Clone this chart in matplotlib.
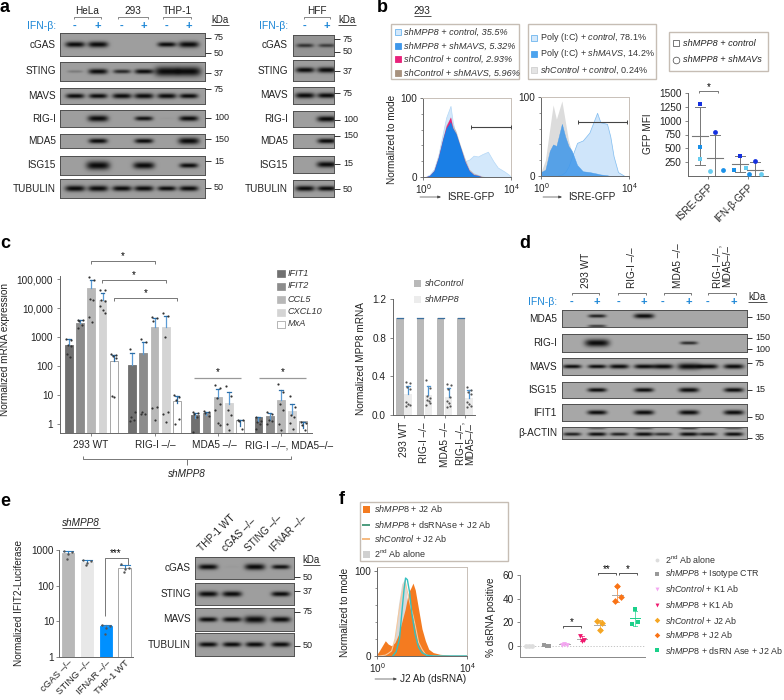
import numpy as np
import matplotlib
matplotlib.use('Agg')
import matplotlib.pyplot as plt
from matplotlib.patches import Rectangle

plt.rcParams['font.family'] = ['Liberation Sans', 'DejaVu Sans']
plt.rcParams['mathtext.fontset'] = 'custom'
plt.rcParams['mathtext.rm'] = 'Liberation Sans'
plt.rcParams['mathtext.it'] = 'Liberation Sans:italic'
plt.rcParams['mathtext.bf'] = 'Liberation Sans:bold'
plt.rcParams['mathtext.default'] = 'rm'
plt.rcParams['axes.linewidth'] = 0.7

W, H = 784, 700
BLUE = '#1c86d6'
DARK = '#555555'

# ---- panel a blots
a_rows = ['cGAS', 'STING', 'MAVS', 'RIG-I', 'MDA5', 'ISG15', 'TUBULIN']
a_left_bands = [[.9, 1., 0, 0, .7, 1.05],
                [.15, .85, .5, .7, 1.9, 1.9],
                [.7, .7, .8, .85, .8, .7],
                [0, 1.1, 0, .6, .02, .8],
                [0, .75, 0, .7, 0, 1.2],
                [0, 1.7, 0, 1.25, 0, .7],
                [1., 1., .85, .85, .7, .8]]
a_right_bands = [[.45, .4], [.75, .85], [.9, .8], [0, .95], [0, .75], [0, 1.], [.85, .75]]
a_left_kda = [('75', 38), ('50', 53), ('37', 73), ('75', 89), ('100', 118), ('150', 139), ('15', 161), ('50', 188)]
a_right_kda = [('75', 39), ('50', 52), ('37', 71), ('75', 93), ('100', 120), ('150', 136), ('15', 164), ('50', 189)]

# ---- panel d blots
d_rows = ['MDA5', 'RIG-I', 'MAVS', 'ISG15', 'IFIT1', 'β-ACTIN']
d_bands = [[0, .55, 0, 1., 0, 0, 0, 0],
           [0, 1.9, 0, 0, 0, .5, 0, 0],
           [.7, .7, .9, .9, 1.05, 1.5, 1., 1.],
           [0, .8, 0, .85, 0, 1., 0, .9],
           [0, .9, 0, 1., 0, 1., 0, 1.],
           [.55, .65, .55, .7, .5, .7, .55, .7]]
d_kda = [('150', 317), ('150', 338), ('100', 349), ('75', 363), ('15', 390), ('50', 417), ('35', 438)]
d_groups = ['293 WT', 'RIG-I –/–', 'MDA5 –/–', 'RIG-I –/–,\nMDA5–/–']

# ---- panel e blots
e_rows = ['cGAS', 'STING', 'MAVS', 'TUBULIN']
e_bands = [[.85, .02, 1.05, .6], [.9, .9, 0, .75], [.7, .75, 1.3, .9], [.7, .7, .75, .75]]
e_kda = [('50', 577), ('37', 591), ('75', 612), ('50', 646)]
e_lanes = ['THP-1 WT', 'cGAS –/–', 'STING –/–', 'IFNAR –/–']

# ---- panel b
b_hist1_x = [.1, .3, .5, .7, .9, 1.05, 1.25, 1.35, 1.5, 1.7, 1.9, 2.1, 2.3, 2.5, 2.7, 2.95, 3.2, 3.4, 3.7, 3.9, 4.]
b_hist1_light = [0, 3, 10, 28, 55, 75, 90, 70, 52, 35, 20, 22, 27, 26, 29, 32, 20, 12, 7, 3, 0]
b_hist1_gray = [0, 2, 9, 27, 50, 66, 76, 66, 58, 40, 24, 10, 5, 3, 1, 0, 0, 0, 0, 0, 0]
b_hist1_pink = [0, 2, 8, 25, 48, 64, 76, 62, 54, 37, 20, 8, 3, 2, 0, 0, 0, 0, 0, 0, 0]
b_hist1_dark = [0, 2, 8, 25, 48, 62, 70, 62, 55, 38, 20, 8, 3, 2, 0, 0, 0, 0, 0, 0, 0]
b_hist2_x = [0, .2, .4, .55, .7, .95, 1.1, 1.25, 1.4, 1.64, 1.9, 2.2, 2.55, 2.7, 3., 3.15, 3.3, 3.5, 3.8, 4.]
b_hist2_gray = [5, 20, 60, 90, 72, 95, 70, 45, 30, 12, 3, 2, 0, 0, 0, 0, 0, 0, 0, 0]
b_hist2_dark = [5, 8, 32, 40, 38, 66, 50, 38, 32, 14, 6, 5, 3, 2, 1, 0, 0, 0, 0, 0]
b_hist2_light = [0, 0, 0, 0, 0, 2, 5, 12, 24, 42, 45, 55, 80, 68, 66, 50, 25, 5, 0, 0]
b_mfi_groups = ['ISRE-GFP', 'IFN-β-GFP']
b_mfi_squares = [[1310, 525, 310], [365, 115, 150]]
b_mfi_circles = [[800, 110, 90], [265, 30, 30]]
b_mfi_sq_mean = [715, 210]
b_mfi_sq_lo = [200, 80]
b_mfi_sq_hi = [1240, 360]
b_mfi_ci_mean = [330, 110]
b_mfi_ci_lo = [0, 0]
b_mfi_ci_hi = [735, 260]
b_mfi_colors = ['#1430e0', '#1a90e8', '#66ccf0']

# ---- panel c left
c_groups = ['293 WT', 'RIG-I –/–', 'MDA5 –/–', 'RIG-I –/–, MDA5–/–']
c_genes = ['IFIT1', 'IFIT2', 'CCL5', 'CXCL10', 'MxA']
c_gene_colors = ['#707070', '#8c8c8c', '#b8b8b8', '#d4d4d4', 'white']
c_means = [[520, 3100, 50000, 19000, 150],
           [110, 270, 2200, 2200, 5.5],
           [1.6, 2, 8, 5, .85],
           [1.25, 1.4, 6.5, 2.3, .75]]
c_tops = [[850, 4000, 95000, 33000, 240],
          [280, 700, 4500, 5200, 9],
          [2.4, 2.7, 16, 12.5, 1.35],
          [1.75, 2.4, 15, 5, 1.2]]
c_points = [[[850, 800, 520, 480, 260, 210], [4000, 3800, 3600, 2600, 2100], [120000, 90000, 20000, 19000, 5000, 3300],
             [42000, 41000, 19000, 18000, 12000, 8500, 6500], [250, 240, 220, 190, 9, 8.5]],
            [[380, 2.5, 1.8, 1.4, 1.3], [850, 650, 2.5, 2.3, 2.2], [4800, 4500, 3500, 4, 3.5, 1.4],
             [6500, 5500, 1000, 2.5, 2.2, 1.2], [10, 8.5, 7, 1.5, 1]],
            [[2.6, 2.4, 2.2, 1.8, .55], [2.8, 2.6, 2.4, 1.9], [22, 18, 8, 5, 3, 1.1, .9],
             [21, 9, 3, 2, 1., .6], [1.4, 1.35, 1.3, .65]],
            [[1.7, 1.3, 1.2, 1., .7], [2.5, 2.3, 1.4, 1.3, 1], [24, 13, 5, 3, 1., .6],
             [9, 4, 2, 1.7, 1.1, .7], [1.2, 1.1, .9, .6]]]

# ---- panel c right
mpp8_groups = ['293 WT', 'RIG-I –/–', 'MDA5 –/–', 'RIG-I –/–,\nMDA5–/–']
mpp8_control = [1., 1., 1., 1.]
mpp8_knock = [.22, .21, .19, .18]
mpp8_hi = [.3, .3, .28, .26]
mpp8_points = [[.34, .33, .29, .27, .13, .11, .1, .09],
               [.36, .28, .2, .18, .16, .14, .12, .1],
               [.32, .31, .27, .19, .14, .12, .09, .08],
               [.29, .26, .24, .22, .13, .11, .09, .08]]

# ---- panel e
e_bar_labels = ['cGAS –/–', 'STING –/–', 'IFNAR –/–', 'THP-1 WT']
e_bar_values = [800, 450, 6.5, 310]
e_bar_colors = ['#b8b8b8', '#e8e8e8', '#0090ff', 'white']
e_bar_points = [[950, 900, 750, 550], [520, 480, 430, 390], [8, 7.5, 6.5, 4.5], [400, 310, 290, 240]]
e_bar_hi = [930, 510, 8, 380]

# ---- panel f
f_x = [0, .1, .37, .5, .65, .8, .95, 1.1, 1.25, 1.4, 1.5, 1.6, 1.7, 1.85, 2., 2.15, 2.3, 2.5, 2.8, 3., 3.3, 3.6, 4.]
f_orange = [2, 6, 18, 14, 12, 16, 25, 40, 55, 75, 80, 86, 78, 55, 32, 18, 8, 4, 2, 1.5, .5, 0, 0]
f_gray = [0, 0, 0, 2, 6, 22, 60, 85, 92, 50, 25, 12, 6, 2, 1, 0, 0, 0, 0, 0, 0, 0, 0]
f_ctrl = [0, 0, 1, 3, 6, 20, 48, 72, 88, 70, 58, 48, 36, 16, 8, 2, 0, 0, 0, 0, 0, 0, 0]
f_teal_x = [.7, .85, 1., 1.1, 1.2, 1.27, 1.35, 1.45, 1.55, 1.7, 1.85, 2., 2.2, 2.5, 4.]
f_teal = [0, 5, 20, 50, 78, 92, 90, 75, 50, 25, 10, 4, 1, 0, 0]
ds_labels = ['2$^{nd}$ Ab alone', '$\\it{shMPP8}$ + Isotype CTR', '$\\it{shControl}$ + K1 Ab', '$\\it{shMPP8}$ + K1 Ab',
             '$\\it{shControl}$ + J2 Ab', '$\\it{shMPP8}$ + J2 Ab', '$\\it{shMPP8}$ + dsRN Ase + J2 Ab']
ds_values = [[.3, .2, .1], [.5, .4, .3], [1., 2., 1.2], [8.5, 5., 4.5], [21, 19.5, 13.5], [51, 41.5, 38], [31, 20, 19]]
ds_jitter = [[-.15, 0, .15], [-.15, 0, .15], [-.15, 0, .15], [-.12, .12, 0], [-.15, .15, 0], [0, .2, -.13], [0, .15, -.15]]
ds_colors = ['#dddddd', '#999999', '#f3a6f0', '#f0186e', '#f5a623', '#f97316', '#1bd08a']
ds_markers = ['o', 's', 'v', 'v', 'D', 'D', 's']


fig = plt.figure(figsize=(W / 100, H / 100), dpi=100)


def ax_px(x0, y0, x1, y1):
    return fig.add_axes([x0 / W, 1 - y1 / H, (x1 - x0) / W, (y1 - y0) / H])


ov = fig.add_axes([0, 0, 1, 1], zorder=10)
ov.set_xlim(0, W)
ov.set_ylim(H, 0)
ov.axis('off')


def txt(x, y, s, size=7.2, ha='left', va='center', **kw):
    ov.text(x, y, s, fontsize=size, ha=ha, va=va, **kw)


def line(xs, ys, color='#777777', lw=0.7):
    ov.plot(xs, ys, color=color, lw=lw, solid_capstyle='butt')


def bracket(x0, x1, y, drop=3, color='#777777'):
    line([x0, x0, x1, x1], [y + drop, y, y, y + drop], color=color)


def draw_blot(box, lanes, bands, bg=.62, second=None, second_frac=.2, frac=.5, thick=1.):
    x0, y0, x1, y1 = box
    ax = ax_px(x0, y0, x1, y1)
    xx, yy = np.meshgrid(np.linspace(x0, x1, int(x1 - x0) * 2), np.linspace(y0, y1, int(y1 - y0) * 3))
    dark = np.zeros_like(xx)
    hgt = y1 - y0
    for xc, val in zip(lanes, bands):
        if val > 0:
            w, h = 7.5 + 2.5 * val, (1.2 + 2.1 * val) * thick
            dark = dark + min(val * 1.6, 1) * np.exp(-((xx - xc) / w) ** 4 - ((yy - (y0 + frac * hgt)) / h) ** 2 * 1.2)
    if second is not None:
        for xc, val in zip(lanes, second):
            if val > 0:
                dark = dark + val * np.exp(-((xx - xc) / 9.) ** 4 - ((yy - (y0 + second_frac * hgt)) / 1.3) ** 2)
    dark = np.clip(dark, 0, 1)
    img = bg * (1 - dark) + .04 * dark
    ax.imshow(img, cmap='gray', vmin=0, vmax=1, aspect='auto', interpolation='bilinear', extent=(x0, x1, y1, y0))
    ax.set_xticks([])
    ax.set_yticks([])
    for sp in ax.spines.values():
        sp.set_color('#505050')
        sp.set_linewidth(.7)


def kda_marks(x_edge, marks, size=6.5, tick=5, gap=2.5):
    for lab, y in marks:
        line([x_edge, x_edge + tick], [y, y], color='#333333')
        txt(x_edge + tick + gap, y, lab, size=size, color='#222222')


def kda_head(x0, x1, y):
    txt((x0 + x1) / 2, y, 'kDa', size=7, ha='center', color='#222222')
    line([x0, x1], [y + 5, y + 5], color='#333333', lw=.6)


def ifn_row(x_label, y, lanes):
    txt(x_label, y, 'IFN-β:', size=7.5, ha='right', color=BLUE)
    for i, xc in enumerate(lanes):
        txt(xc, y, '+' if i % 2 else '-', size=8, ha='center', color=BLUE, fontweight='bold')


for s, x, y in [('a', 0, 8), ('b', 377, 8), ('c', 0, 244), ('d', 519, 243), ('e', 0, 501), ('f', 339, 500)]:
    txt(x, y, s, size=13, fontweight='bold')

# panel a
a_left_y = [(33, 56), (62, 81), (88, 104), (110, 127), (134, 148), (156, 175), (179, 198)]
a_right_y = [(35, 56), (60, 81), (87, 104), (111, 127), (134, 148), (156, 173), (180, 197)]
a_lanes_l = [75, 98, 122, 144, 167, 189]
a_lanes_r = [305, 327]
for i, name in enumerate(a_rows):
    y0, y1 = a_left_y[i]
    draw_blot((60, y0, 205, y1), a_lanes_l, a_left_bands[i])
    txt(56, (y0 + y1) / 2, name, ha='right', color='#222222')
    y0, y1 = a_right_y[i]
    draw_blot((293, y0, 334, y1), a_lanes_r, a_right_bands[i], bg=.58 if i == 0 else .62)
    txt(288, (y0 + y1) / 2, name, ha='right', color='#222222')
kda_marks(205, a_left_kda, tick=6, gap=3)
kda_marks(334, a_right_kda, tick=6, gap=3)
kda_head(211, 229, 20)
kda_head(338, 356, 20)
for lab, x0, x1 in [('HeLa', 74, 101), ('293', 118, 148), ('THP-1', 163, 191), ('HFF', 304, 330)]:
    txt((x0 + x1) / 2, 11, lab, ha='center', color='#222222')
    bracket(x0, x1, 17, drop=2, color='#888888')
ifn_row(56, 26, a_lanes_l)
ifn_row(288, 26, a_lanes_r)

# panel b
txt(422, 11, '293', ha='center', color='#222222')
line([414, 431], [16, 16], color='#333333', lw=.6)
ov.add_patch(Rectangle((391, 24), 128, 55, fc='white', ec='#c6bdb4', lw=1))
b_leg1 = ['shMPP8 + control, 35.5%', 'shMPP8 + shMAVS, 5.32%', 'shControl + control, 2.93%', 'shControl + shMAVS, 5.96%']
for y, lab, fc, ec in zip([32, 46, 59, 73], b_leg1, ['#d3e8fb', '#3f97ea', '#e8217a', '#a8927e'],
                          ['#6eb5ee', '#3f97ea', '#e8217a', '#a8927e']):
    ov.add_patch(Rectangle((395, y - 2.8), 5.6, 5.6, fc=fc, ec=ec, lw=.6))
    txt(404, y, lab, size=6.6, style='italic', color='#333333')
ov.add_patch(Rectangle((528, 24), 128, 55, fc='white', ec='#c6bdb4', lw=1))
b_leg2 = ['Poly (I:C) + $\\it{control}$, 78.1%', 'Poly (I:C) + $\\it{shMAVS}$, 14.2%', '$\\it{shControl}$ + $\\it{control}$, 0.24%']
for y, lab, fc, ec in zip([38, 54, 70], b_leg2, ['#d3e8fb', '#4ca3ee', '#e4e4e4'], ['#6eb5ee', '#4ca3ee', '#d0d0d0']):
    ov.add_patch(Rectangle((531, y - 3), 6, 6, fc=fc, ec=ec, lw=.6))
    txt(540, y, lab, size=6.5, color='#333333')
ov.add_patch(Rectangle((669, 32), 99, 39, fc='white', ec='#c6bdb4', lw=1))
ov.plot([676], [43], 's', ms=4.5, mfc='white', mec='#444444', mew=.5)
ov.plot([676], [60], 'o', ms=4.8, mfc='white', mec='#444444', mew=.5)
txt(683, 43, 'shMPP8 + control', size=6.6, style='italic', color='#222222')
txt(683, 60, 'shMPP8 + shMAVs', size=6.6, style='italic', color='#222222')


def hist_axes(box, ytop=100):
    ax = ax_px(*box)
    ax.set_xscale('log')
    ax.set_xlim(1, 1e4)
    ax.set_ylim(0, ytop)
    ax.set_xticks([1, 1e4])
    ax.set_xticklabels(['$10^0$', '$10^4$'], fontsize=7.2, color='#222222')
    ax.set_yticks([0, 100])
    ax.set_yticklabels(['0', '100'], fontsize=7.2, color='#222222')
    ax.set_yticks([20, 40, 60, 80], minor=True)
    ax.tick_params(axis='both', which='major', length=2.5, width=.5, pad=1.5, color='#444444')
    ax.tick_params(axis='y', which='minor', length=1.5, width=.4, color='#444444')
    ax.tick_params(axis='x', which='minor', bottom=False)
    for k in ['top', 'right']:
        ax.spines[k].set_color('#c8c0b8')
    for k in ['left', 'bottom']:
        ax.spines[k].set_color('#666666')
    return ax


hx = 10 ** np.array(b_hist1_x)
ax = hist_axes((423, 98, 511, 177))
ax.fill_between(hx, b_hist1_light, color='#d3e8fb', lw=.5, ec='#b5d8f7')
ax.fill_between(hx, b_hist1_gray, color='#bdbdbd', lw=0)
ax.fill_between(hx, b_hist1_pink, color='#e8217a', lw=0)
ax.fill_between(hx, b_hist1_dark, color='#1a7fe6', lw=0)
line([471, 511], [127, 127], color='#444444', lw=.8)
line([471, 471], [125, 129], color='#444444')
line([511, 511], [125, 129], color='#444444')

hx = 10 ** np.array(b_hist2_x)
ax = hist_axes((541, 97, 629, 176))
ax.fill_between(hx, b_hist2_gray, color='#dcdcdc', lw=0)
ax.fill_between(hx, b_hist2_light, color='#cfe5fa', lw=.5, ec='#7fbcf0')
ax.fill_between(hx, b_hist2_dark, color='#3f97ea', lw=.3, alpha=.85)
line([578, 627], [122, 122], color='#444444', lw=.8)
line([578, 578], [120, 124], color='#444444')
line([627, 627], [120, 124], color='#444444')

txt(392, 139, 'Normalized to mode', rotation=90, ha='center', color='#222222')
for x0, x1, tx in [(420, 441, 447), (543, 562, 568)]:
    ov.annotate('', xy=(x1, 197), xytext=(x0, 197), arrowprops=dict(arrowstyle='-|>,head_length=.18,head_width=.08', lw=.5, color='#444444', shrinkA=0, shrinkB=0))
    txt(tx, 197, 'ISRE-GFP', color='#222222')

ax = ax_px(688, 93, 768, 176)
sq_x = [1.2, 5.2]
ci_x = [2.7, 6.7]
for i in range(2):
    for xs, vals, mean, lo, hi, mk in [(sq_x[i], b_mfi_squares[i], b_mfi_sq_mean[i], b_mfi_sq_lo[i], b_mfi_sq_hi[i], 's'),
                                       (ci_x[i], b_mfi_circles[i], b_mfi_ci_mean[i], b_mfi_ci_lo[i], b_mfi_ci_hi[i], 'o')]:
        ax.plot([xs, xs], [lo, hi], color='#777777', lw=.7, zorder=1)
        ax.plot([xs - .5, xs + .5], [lo, lo], color='#777777', lw=.7, zorder=1, clip_on=False)
        ax.plot([xs - .5, xs + .5], [hi, hi], color='#777777', lw=.7, zorder=1)
        ax.plot([xs - .8, xs + .8], [mean, mean], color='#777777', lw=.8, zorder=1)
        dx = [0, .8, -.5] if (mk == 'o' and i == 0) else [0, -.6, .6] if i else [0, 0, 0]
        for v, c, d in zip(vals, b_mfi_colors, dx):
            ax.scatter(xs + d, v, s=12, marker=mk, color=c, lw=0, zorder=3, clip_on=False)
ax.set_xlim(0, 8)
ax.set_ylim(0, 1500)
ax.set_yticks([250, 500, 750, 1000, 1250, 1500])
ax.set_yticklabels(['250', '500', '750', '1000', '1250', '1500'], fontsize=7.2, color='#222222')
ax.set_xticks([2., 6.])
ax.set_xticklabels(b_mfi_groups, fontsize=7.2, rotation=45, ha='right', rotation_mode='anchor', color='#222222')
ax.tick_params(length=2.5, width=.5, pad=2, color='#555555')
for k in ['top', 'right']:
    ax.spines[k].set_visible(False)
for k in ['left', 'bottom']:
    ax.spines[k].set_color('#666666')
txt(648, 134, 'GFP MFI', rotation=90, ha='center', color='#222222')
bracket(699, 718, 91, drop=2)
txt(708.5, 87, '*', size=7, ha='center')

# panel c left
ax = ax_px(60, 276, 312, 433)
ax.set_yscale('log')
ax.set_xlim(0, 22.5)
ax.set_ylim(.49, 1.27e5)
grp_off = 5.64
jit = [-.22, .22, -.1, .18, -.2, .05, .2]
for g in range(4):
    for b in range(5):
        xb = .8 + g * grp_off + b
        ax.bar(xb, c_means[g][b], width=.7, color=c_gene_colors[b], ec='#999999' if b == 4 else c_gene_colors[b], lw=.6, bottom=.49)
        ax.plot([xb, xb], [c_means[g][b], c_tops[g][b]], color='#5a9bd5' if b < 4 else '#2b6ea8', lw=.9)
        ax.plot([xb - .15, xb + .15], [c_tops[g][b]] * 2, color='#2b6ea8', lw=.9)
        pts = c_points[g][b]
        ax.scatter([xb + jit[k % 7] for k in range(len(pts))], pts, s=2.5, color='#333333', lw=0, zorder=4)
ax.set_yticks([1, 10, 100, 1000, 10000, 100000])
ax.set_yticklabels(['1', '10', '100', '1000', '10,000', '100,000'], fontsize=7.2, color='#222222')
ax.minorticks_off()
ax.set_xticks([2.8 + g * grp_off for g in range(4)])
ax.set_xticklabels([])
ax.tick_params(length=2.5, width=.5, pad=2.5, color='#555555')
for k in ['top', 'right']:
    ax.spines[k].set_visible(False)
for k in ['left', 'bottom']:
    ax.spines[k].set_color('#666666')
for x_lab, lab in zip([91, 155, 214, 289], c_groups):
    txt(x_lab, 445, lab, ha='center', color='#222222')
txt(5, 350, 'Normalized mRNA expression', rotation=90, ha='center', color='#222222')
for x0, x1, y in [(91, 155, 261), (102, 166, 280), (114, 177, 298)]:
    bracket(x0, x1, y)
    txt((x0 + x1) / 2, y - 5, '*', size=7, ha='center')
for x0, x1 in [(194, 241), (259, 306)]:
    line([x0, x1], [378, 378], color='#999999', lw=.9)
    txt((x0 + x1) / 2, 372, '*', size=7, ha='center')
bracket(83, 291, 459, drop=-3)
line([187, 187], [459, 465])
txt(187, 474, 'shMPP8', style='italic', ha='center', color='#222222')
for y, lab, c in zip([273, 286, 299, 312, 324], c_genes, c_gene_colors):
    ov.add_patch(Rectangle((277.5, y - 3.5), 7.5, 7, fc=c, ec='#999999' if c == 'white' else c, lw=.5))
    txt(288, y, lab, size=6.6, style='italic', color='#333333')

# panel c right
ax = ax_px(393, 299, 475, 415)
ax.set_xlim(0, 82)
ax.set_ylim(0, 1.2)
for g in range(4):
    x_c = 7 + g * 20.3
    x_k = 15 + g * 20.3
    ax.bar(x_c, mpp8_control[g], width=7.3, color='#b9b9b9')
    ax.plot([x_c - 3, x_c + 3], [1, 1], color='#3b6f9e', lw=.9)
    ax.bar(x_k, mpp8_knock[g], width=7.3, color='#ececec')
    ax.plot([x_k, x_k], [mpp8_knock[g], mpp8_hi[g]], color='#4f93cf', lw=.9)
    ax.plot([x_k - 1.8, x_k + 1.8], [mpp8_hi[g]] * 2, color='#4f93cf', lw=.9)
    pts = mpp8_points[g]
    ax.scatter([x_k + jit[k % 7] * 9 for k in range(len(pts))], pts, s=2.5, color='#555555', lw=0, zorder=4)
ax.set_yticks([0, .4, .8, 1.2])
ax.set_yticklabels(['0.0', '0.4', '0.8', '1.2'], fontsize=7.2, color='#222222')
ax.set_xticks([11 + g * 20.3 for g in range(4)])
ax.set_xticklabels(mpp8_groups, fontsize=7.2, rotation=90, color='#222222', linespacing=.95)
ax.tick_params(length=2.5, width=.5, pad=2.5, color='#555555')
for k in ['top', 'right']:
    ax.spines[k].set_visible(False)
for k in ['left', 'bottom']:
    ax.spines[k].set_color('#666666')
txt(361, 359, 'Normalized MPP8 mRNA', rotation=90, ha='center', color='#222222')
for y, lab, c in [(283, 'shControl', '#b9b9b9'), (299, 'shMPP8', '#ececec')]:
    ov.add_patch(Rectangle((414, y - 3.5), 7.5, 7, fc=c, ec=c, lw=0))
    txt(425, y, lab, size=6.6, style='italic', color='#333333')

# panel d
d_y = [(310, 327), (334, 352), (358, 375), (382, 398), (404, 421), (427, 439)]
d_lanes = [572, 597, 619, 644, 663, 689, 708, 734]
for i, name in enumerate(d_rows):
    y0, y1 = d_y[i]
    second, sf = None, .2
    if name == 'MDA5':
        second, sf = [0, .7, 0, 0, 0, 0, 0, 0], .95
    if name == 'β-ACTIN':
        second, sf = [0, .45, 0, .5, 0, .65, 0, .5], .1
    draw_blot((562, y0, 747, y1), d_lanes, d_bands[i], bg=.66, second=second, second_frac=sf,
              frac=.35 if name == 'MDA5' else .5 if name != 'β-ACTIN' else .6, thick=.8)
    txt(557, (y0 + y1) / 2, name, ha='right', color='#222222')
kda_marks(747, d_kda, tick=5, gap=3)
kda_head(748, 767, 297)
ifn_row(557, 302, d_lanes)
for (x0, x1), xt, lab in zip([(572, 599), (618, 646), (664, 691), (708, 736)], [586, 632, 678, 722], d_groups):
    bracket(x0, x1, 293, drop=2)
    txt(xt, 288, lab, rotation=90, ha='center', va='bottom', color='#222222', linespacing=.95)

# panel e bars
ax = ax_px(59, 550, 133, 657)
ax.set_yscale('log')
ax.set_ylim(1, 1000)
ax.set_xlim(0, 74)
for i in range(4):
    xb = 9 + i * 18.9
    ax.bar(xb, e_bar_values[i], width=12.5, color=e_bar_colors[i], ec='#999999' if i == 3 else e_bar_colors[i], lw=.6, bottom=1)
    ax.plot([xb, xb], [e_bar_values[i], e_bar_hi[i]], color='#2b7fc4', lw=.8)
    ax.plot([xb - 5, xb + 5], [e_bar_hi[i]] * 2, color='#2b7fc4', lw=.8)
    pts = e_bar_points[i]
    ax.scatter([xb + [-4, 4, 0, -1][k] for k in range(len(pts))], pts, s=3, color='#555555', lw=0, zorder=4, clip_on=False)
ax.set_yticks([1, 10, 100, 1000])
ax.set_yticklabels(['1', '10', '100', '1000'], fontsize=7.2, color='#222222')
ax.minorticks_off()
ax.set_xticks([9 + i * 18.9 for i in range(4)])
ax.set_xticklabels(e_bar_labels, fontsize=6.8, rotation=45, ha='right', rotation_mode='anchor', color='#222222')
ax.tick_params(length=2, width=.5, pad=1.5, color='#555555')
ax.tick_params(axis='x', length=0, pad=1)
for k in ['top', 'right']:
    ax.spines[k].set_visible(False)
for k in ['left', 'bottom']:
    ax.spines[k].set_color('#666666')
txt(19, 603, 'Normalized IFIT2-Luciferase', rotation=90, ha='center', color='#222222')
txt(81, 523, 'shMPP8', style='italic', ha='center', color='#222222')
line([62, 100], [528, 528], color='#333333', lw=.6)
line([105, 105, 128, 128], [616, 558, 558, 565], color='#777777')
txt(116, 553, '***', size=7, ha='center')

# panel e blots
e_y = [(557, 579), (583, 605), (608, 631), (633, 656)]
e_x = [208, 232, 255, 281]
for i, name in enumerate(e_rows):
    y0, y1 = e_y[i]
    draw_blot((195, y0, 294, y1), e_x, e_bands[i], frac=.45 if i == 0 else .5)
    txt(191, (y0 + y1) / 2, name, ha='right', color='#222222')
kda_marks(294, e_kda, tick=6, gap=3)
kda_head(303, 320, 560)
for xt, lab in zip([203, 227, 250, 275], e_lanes):
    ov.text(xt, 553, lab, fontsize=7.2, rotation=45, ha='left', va='bottom', rotation_mode='anchor', color='#222222')

# panel f
ov.add_patch(Rectangle((360, 502), 148, 59, fc='white', ec='#c6bdb4', lw=1))
f_leg = ['$\\it{shMPP8}$ + J2 Ab', '$\\it{shMPP8}$ + dsRNAse + J2 Ab', '$\\it{shControl}$ + J2 Ab', '2$^{nd}$ Ab alone']
for y, lab in zip([509, 525, 539, 554], f_leg):
    txt(374, y, lab, size=6.5, color='#333333')
ov.add_patch(Rectangle((363.5, 505.5), 7, 7, fc='#f47b20', ec='none'))
line([362, 370], [525, 525], color='#2e8b67', lw=1.2)
line([362, 370], [539, 539], color='#f5ae6a', lw=1.2)
ov.add_patch(Rectangle((363.5, 550.5), 7, 7, fc='#d0d0d0', ec='none'))

ax = hist_axes((377, 567, 467, 656), ytop=105)
ax.fill_between(10 ** np.array(f_x), f_gray, color='#d8d8d8', lw=0)
ax.fill_between(10 ** np.array(f_x), f_orange, color='#f47b20', lw=0)
ax.plot(10 ** np.array(f_x), f_ctrl, color='#f5c9a0', lw=.8)
ax.plot(10 ** np.array(f_teal_x), f_teal, color='#35c0c0', lw=1)
txt(345, 612, 'Normalized to mode', rotation=90, ha='center', color='#222222')
ov.annotate('', xy=(397, 679), xytext=(375, 679), arrowprops=dict(arrowstyle='-|>,head_length=.18,head_width=.08', lw=.5, color='#444444', shrinkA=0, shrinkB=0))
txt(400, 679, 'J2 Ab (dsRNA)', color='#222222')

ax = ax_px(520, 575, 645, 657)
ax.axhline(0, color='#bbbbbb', lw=.6, ls=(0, (1.5, 2)))
for i in range(7):
    vals = np.array(ds_values[i])
    m, s = vals.mean(), vals.std(ddof=1)
    if i > 1:
        ax.plot([i, i], [m - s, m + s], color=ds_colors[i], lw=.7, zorder=1, alpha=.7)
        ax.plot([i - .12, i + .12], [m - s, m - s], color=ds_colors[i], lw=.7, alpha=.7)
        ax.plot([i - .12, i + .12], [m + s, m + s], color=ds_colors[i], lw=.7, alpha=.7)
        ax.plot([i - .3, i + .3], [m, m], color='#aaaaaa' if i != 6 else ds_colors[i], lw=.7)
    ax.scatter(np.array(ds_jitter[i]) + i, vals, s=12, marker=ds_markers[i], color=ds_colors[i], lw=0, zorder=3)
ax.set_xlim(-.51, 6.57)
ax.set_ylim(-9.3, 60)
ax.set_yticks([0, 20, 40, 60])
ax.set_yticklabels(['0', '20', '40', '60'], fontsize=7.2, color='#222222')
ax.set_xticks([])
ax.tick_params(length=2.5, width=.5, pad=2, color='#555555')
for k in ['top', 'right']:
    ax.spines[k].set_visible(False)
for k in ['left', 'bottom']:
    ax.spines[k].set_color('#888888')
txt(491, 617, '% dsRNA positive', rotation=90, ha='center', color='#222222')
for x0, x1, y, st in [(563, 581, 626, '*'), (598, 616, 573, '**'), (619, 637, 573, '*')]:
    bracket(x0, x1, y, drop=2, color='#555555')
    txt((x0 + x1) / 2, y - 4, st, size=7, ha='center')
for y, lab, c, mk in zip([560, 574, 589, 605, 620, 635, 650], ds_labels, ds_colors, ds_markers):
    ov.plot([657], [y], mk, ms=2.8, color=c, mew=0)
    txt(665, y, lab, size=6.4, color='#333333')

fig.savefig('out.png', dpi=100)
